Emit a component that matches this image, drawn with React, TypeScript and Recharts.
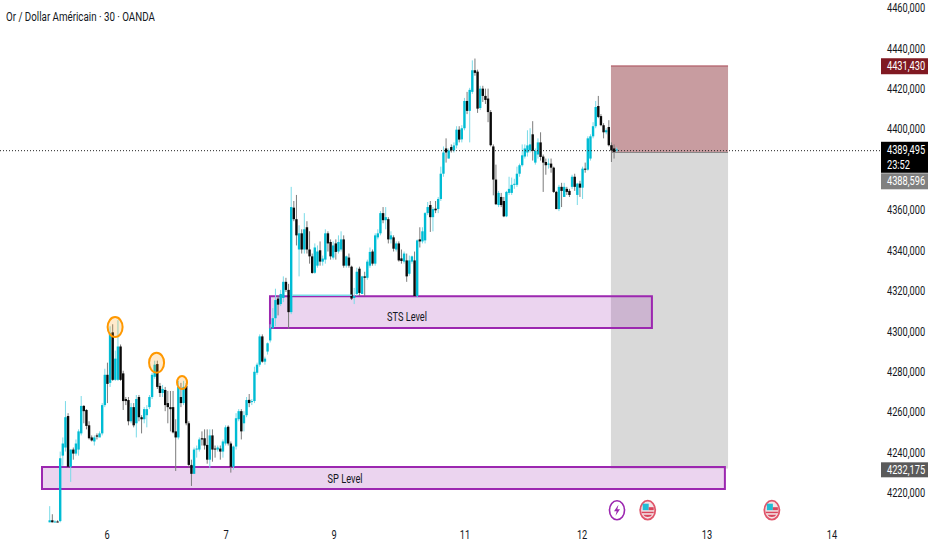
import React from "react";
import { ComposedChart, Bar, XAxis, YAxis, ReferenceArea, ReferenceLine, ReferenceDot } from "recharts";

type C = [number, number, number, number];
// open, high, low, close
const sessionA: C[] = [
  [4205,4213,4205,4206],[4206,4209,4205,4205],[4205,4206,4205,4205.4],[4205.4,4206,4205,4205.1],
  [4205.6,4240,4205,4236.7],[4238,4247,4233,4244],[4242,4265,4240,4257],[4257.6,4259,4232,4232.5],
  [4232.5,4241,4225,4241],[4241,4242,4236,4239],[4239,4246,4238,4244],[4241,4251,4238,4250],
  [4249,4267.5,4248,4262.6],[4262.6,4263,4254,4260],[4260.6,4261,4251,4252.7],[4253,4255,4246,4246.6],
  [4247,4248,4245,4245.5],[4245,4248,4243,4247],[4248,4249,4246,4247.4],[4247,4250,4248,4249],
  [4249,4264,4248,4263],[4263,4281,4262,4278],[4278,4284,4264,4273.5],[4274,4302,4272,4298.5],
  [4299,4303,4275,4275.5],[4275.5,4290,4275,4286],[4275.5,4305,4275,4292],[4292,4293,4275,4275.5],
  [4278.7,4280,4260.6,4265],[4266,4267,4263,4265],[4265.5,4267,4253,4255],[4255,4264,4254,4262],
  [4262,4264,4252,4253],[4254,4268,4247,4266],[4267,4268,4255,4257],[4257,4258,4249,4256],
  [4256,4262,4254,4261],[4258,4263,4252,4261],[4262,4268,4261,4267],[4267,4279,4266,4278],
  [4277,4285,4276,4283],[4283.3,4285,4271,4272],[4272.5,4274,4267,4269],[4269,4273,4267,4271],
  [4270.5,4272,4260,4263],[4264,4270,4254,4262],[4262,4270,4250,4261],[4262,4270,4249,4249.5],
  [4250,4256,4230.4,4247],[4247,4275,4246,4272],[4267,4274,4262,4264],[4264,4275,4263,4272],
  [4272.5,4274,4253,4254],[4254,4255,4232,4233.4],[4233.4,4236,4223,4229],[4229,4242,4229,4241],
  [4241,4243,4237,4241.5],[4241,4247,4240,4246],[4246.6,4250,4243,4246],[4246.6,4251,4241,4243],
  [4243.3,4251,4234,4236],[4236,4251,4232,4248],[4248,4251,4235,4241],[4241.5,4243,4237,4241],
  [4241,4243,4240,4242],[4241.5,4243,4236,4240],[4240,4246,4237,4245],[4244,4253,4243,4252],
  [4252.3,4253,4243,4244],[4244,4245,4229.6,4232.5],[4232.5,4243,4231,4242.5],[4242.5,4259,4241,4256.5],
  [4256,4261,4255,4260],[4260,4261,4246,4250],[4254,4260,4250,4258],[4258,4267,4257,4265.5],
  [4265.6,4268.5,4262,4264],[4264.5,4266,4263,4265],[4265,4282,4264,4279.5],[4279,4284,4278,4283],
  [4283,4298,4282,4297],[4297,4298,4284,4284.5],[4284.5,4287,4283,4286],[4289.5,4294,4288,4293.6],
];
const sessionB: C[] = [
  [4295,4303,4294,4301],[4301,4311,4301,4306],[4306,4320.6,4302,4315],[4315.7,4317,4307.4,4312.7],
  [4313,4320,4312,4318],[4316,4326.7,4314,4324],[4324,4326,4319,4320],[4320,4323,4300.8,4309],
  [4309,4371,4308,4361],[4360.7,4364,4354,4355],[4355,4367,4342,4347],[4340,4352,4326.7,4348],
  [4348,4350,4338,4340],[4340,4358,4338,4350],[4351,4354,4338,4340],[4340,4349,4333,4336.6],
  [4336.6,4338,4328,4328.4],[4328.5,4343,4328,4341],[4332,4342,4331,4339],[4339.6,4344,4332,4334],
  [4334,4337,4332,4335.5],[4335,4350,4333,4348],[4348,4349,4339,4343],[4343.7,4345,4335,4336.6],
  [4336,4344,4335,4342],[4343,4345,4335,4338.8],[4339,4347,4338,4343.7],[4340,4349,4339,4345],
  [4345,4347,4331,4332],[4332,4337,4331,4336.6],[4336,4338,4331,4332],[4331.5,4332,4315,4315.7],
  [4316,4321,4313,4317],[4318,4331,4317,4329],[4330.5,4331.5,4317,4318.5],[4318,4327,4318,4326.7],
  [4326.7,4329,4317,4326],[4326,4335,4325,4334],[4332,4341,4331,4338.8],[4339,4340,4332,4333],
  [4333,4348,4332,4347],[4346,4350,4345,4348],[4348,4359,4347,4358],[4358,4361,4353,4354.5],
  [4354.5,4361,4350,4356],[4355,4356,4343,4345],[4345,4349,4343,4347],[4346,4347,4339,4340.4],
  [4340,4344,4339,4343],[4343,4344,4334,4334.6],[4335.6,4340,4333,4334.3],[4334,4339,4333,4338],
  [4334.6,4338,4324,4326.7],[4328,4337,4327,4334.6],[4334,4337,4333,4336.6],[4334.6,4339,4316.8,4317],
  [4317,4345,4316,4344.5],[4345,4351,4341,4344],[4344,4351,4343,4349],[4344.5,4358.5,4343,4358],
];
const sessionC: C[] = [
  [4358,4363.5,4357,4361],[4362,4364,4348.7,4356],[4356,4361,4349,4360],[4360.2,4364,4358,4359.4],
  [4360,4366,4358,4365],[4365,4381,4364,4377.5],[4377.5,4391,4376,4388],[4390,4395,4383,4388],
  [4385,4390,4385,4389],[4390.7,4392,4388,4389],[4389,4393,4388,4391.5],[4391.5,4401,4390,4399.3],
  [4399.3,4401,4393,4394.4],[4394.5,4401.5,4393,4400],[4400,4415,4399,4413.5],[4413.5,4418,4407,4408.6],
  [4408.6,4420,4393,4419],[4418,4433.6,4417,4428.7],[4428.7,4434.5,4426,4427.4],[4428,4429,4407.6,4409.7],
  [4410,4421,4409,4419.6],[4419.6,4421,4413,4416],[4416,4419.6,4412,4414],[4414.7,4419.6,4403,4408],
  [4408,4409,4391,4391.6],[4391,4392,4366.8,4374.6],[4374.6,4382,4362,4362.4],[4362,4369,4361,4368],
  [4366,4368,4361,4362],[4364,4366,4356,4356.4],[4356.4,4369,4356,4368.5],[4368,4376,4367,4370],
  [4368,4375.6,4367,4372],[4372,4375,4370,4372.5],[4372,4381,4371,4377.5],[4377.5,4382.5,4376,4381.7],
  [4381.7,4392,4381,4386.6],[4386,4392,4385,4390],[4388,4399,4386,4391.5],[4389,4400,4388,4392],
  [4397,4403.5,4384,4388.8],[4383,4390,4382,4388.8],[4387,4395,4385,4393],[4393,4398,4384,4385.8],
  [4386,4387,4368.5,4383],[4383.3,4385,4377,4381.7],[4382,4385,4380,4382.5],[4382.5,4385,4378,4380.5],
  [4380.5,4381,4368,4368.5],[4368.5,4369,4360,4360],[4360,4372,4359,4371],[4371,4373,4361,4369],
  [4366,4373,4366,4371],[4370,4371,4367,4368.5],[4369,4370,4366,4367],[4371,4377,4370,4376],
  [4376,4377.5,4369,4371],[4367,4373,4362,4372.6],[4372.6,4374,4366,4370.6],[4370.6,4381,4365,4380],
  [4380,4383,4378,4379.5],[4379.5,4396,4379,4395],[4385,4397,4384,4396],[4396,4403,4395,4401],
  [4401,4413.5,4400,4410.5],[4411,4416,4405,4405.6],[4406,4407,4401,4401.5],[4401.5,4402.5,4395,4398],
  [4398,4400,4397,4399],[4400.6,4404,4391,4391.6],[4391.6,4393,4383.3,4389],[4390,4392,4385,4388.3],
  [4389,4390.5,4388,4389.5],
];
const candles = [...sessionA, ...sessionB, ...sessionC];
const readShift = 0.6;
const chartData = candles.map(([o, h, l, c], i) => ({
  i,
  o: o + readShift,
  h: h + readShift,
  l: l + readShift,
  c: c + readShift,
  range: [l + readShift, h + readShift],
}));

const priceTicks = [4460, 4440, 4420, 4400, 4360, 4340, 4320, 4300, 4280, 4260, 4240, 4220];
const dayPositions = [21.7, 67.05, 108.2, 158.1, 202.7, 250.3, 297.9];
const dayLabels = ["6", "7", "9", "11", "12", "13", "14"];
const lastPrice = 4389.495;
const countdown = "23:52";
const stopPrice = 4431.43;
const entryPrice = 4388.596;
const targetPrice = 4232.175;
const X_DOMAIN: [number, number] = [-19.05, 316.19];
const Y_DOMAIN: [number, number] = [4204.27, 4464.06];

const UP = "#00bcd4";
const UP_WICK = "#7adbe8";
const DOWN = "#0a0a0a";
const DOWN_WICK = "#7c7c7c";
const FONT = "Roboto, sans-serif";
const NARROW_X = 0.77;
const fmt = (v: number) => v.toFixed(3).replace(".", ",");

const Candle = (p: any) => {
  const { x, y, width, height, payload } = p;
  const { o, h, l, c } = payload;
  const up = c >= o;
  const k = Math.abs(height) / Math.max(h - l, 0.001);
  const top = y + (h - Math.max(o, c)) * k;
  const bh = Math.max(Math.abs(o - c) * k, 1);
  const cx = x + width / 2;
  return (
    <g>
      <rect x={cx - 0.5} y={y} width={1} height={Math.abs(height)} fill={up ? UP_WICK : DOWN_WICK} />
      <rect x={cx - 1.2} y={top} width={2.4} height={bh} fill={up ? UP : DOWN} />
    </g>
  );
};

const badges: Record<string, { bg: string; h: number; off: number }> = {
  [stopPrice]: { bg: "#801922", h: 16, off: 0.3 },
  [lastPrice]: { bg: "#000000", h: 31, off: 6.6 },
  [entryPrice]: { bg: "#808080", h: 16, off: 28.8 },
  [targetPrice]: { bg: "#5a5a5a", h: 15, off: 1.2 },
};

const Narrow = ({ x, y, fill, children, anchor = "start" }: any) => (
  <text
    transform={`translate(${x},${y}) scale(${NARROW_X},1)`}
    fontSize={12}
    fontFamily={FONT}
    fill={fill}
    textAnchor={anchor}
  >
    {children}
  </text>
);

const PriceTick = (p: any) => {
  const { y, payload } = p;
  const v = payload.value;
  const b = badges[v];
  if (!b) {
    return (
      <Narrow x={887} y={y + 4} fill="#131722">
        {fmt(v)}
      </Narrow>
    );
  }
  const cy = y + b.off;
  const isLast = v === lastPrice;
  return (
    <g>
      <rect x={881} y={cy - b.h / 2} width={47} height={b.h} fill={b.bg} />
      <Narrow x={887} y={isLast ? cy - 3 : cy + 4} fill="#fff">
        {fmt(v)}
      </Narrow>
      {isLast && (
        <Narrow x={887} y={cy + 12} fill="#fff">
          {countdown}
        </Narrow>
      )}
    </g>
  );
};

const DayTick = (p: any) => {
  const { x, payload } = p;
  const label = dayLabels[dayPositions.indexOf(payload.value)];
  return (
    <Narrow x={x} y={539} fill="#131722" anchor="middle">
      {label}
    </Narrow>
  );
};

const Ring = (rx: number, ry: number) => (p: any) => (
  <ellipse cx={p.cx} cy={p.cy} rx={rx} ry={ry} fill="#ff9800" fillOpacity={0.2} stroke="#ff9800" strokeWidth={2} />
);

const Label = (txt: string) => (p: any) => (
  <Narrow x={p.cx} y={p.cy + 4} fill="#131722" anchor="middle">
    {txt}
  </Narrow>
);

const Bolt = (p: any) => (
  <g transform={`translate(${p.cx},${p.cy})`}>
    <ellipse rx={7.5} ry={9.5} fill="#fff" stroke="#9c27b0" strokeWidth={1.6} />
    <path d="M1.5,-5.5 L-3,1 L-0.3,1 L-1.5,5.5 L3,-1 L0.3,-1 Z" fill="#9c27b0" />
  </g>
);

const Flag = (p: any) => (
  <g transform={`translate(${p.cx},${p.cy})`}>
    <ellipse rx={7.5} ry={9.5} fill="#f3e3e6" stroke="#e0566b" strokeWidth={1.8} />
    <rect x={-5} y={-6.5} width={6} height={6.5} fill="#22bcd4" />
    <rect x={1} y={-3} width={5} height={3} fill="#d9465c" />
    <rect x={-6} y={1.5} width={12} height={1.5} fill="#d9465c" />
    <path d="M-4.5,4.5 h9 a5,4 0 0 1 -9,0 Z" fill="#d9465c" />
  </g>
);

const EventX = [216, 227.7, 275];
const EventPrice = 4211.6;

export default function App() {
  return (
    <div style={{ position: "fixed", left: 0, top: 0, width: 932, height: 550, background: "#fff" }}>
      <div
        style={{
          position: "absolute",
          left: 6,
          top: 9,
          fontFamily: FONT,
          fontSize: 12.5,
          color: "#131722",
          whiteSpace: "nowrap",
          zIndex: 2,
          transform: "scaleX(0.78)",
          transformOrigin: "left center",
        }}
      >
        Or / Dollar Américain · 30 · OANDA
      </div>
      <ComposedChart
        width={932}
        height={550}
        data={chartData}
        margin={{ top: 0, right: 0, bottom: 0, left: 0 }}
      >
        <XAxis
          dataKey="i"
          type="number"
          domain={X_DOMAIN}
          allowDataOverflow
          ticks={dayPositions}
          interval={0}
          height={25}
          axisLine={false}
          tickLine={false}
          tick={<DayTick />}
        />
        <YAxis
          orientation="right"
          type="number"
          domain={Y_DOMAIN}
          allowDataOverflow
          width={52}
          ticks={[...priceTicks, stopPrice, lastPrice, entryPrice, targetPrice]}
          interval={0}
          axisLine={false}
          tickLine={false}
          tick={<PriceTick />}
        />
        <ReferenceArea x1={213.7} x2={258.3} y1={entryPrice} y2={stopPrice} fill="#801922" fillOpacity={0.43} stroke="none" ifOverflow="visible" />
        <ReferenceArea x1={213.7} x2={258.3} y1={targetPrice} y2={entryPrice} fill="#808080" fillOpacity={0.3} stroke="none" ifOverflow="visible" />
        <ReferenceLine segment={[{ x: 213.7, y: stopPrice }, { x: 258.3, y: stopPrice }]} stroke="#a84a55" strokeWidth={1} />
        <ReferenceLine segment={[{ x: 213.7, y: entryPrice }, { x: 258.3, y: entryPrice }]} stroke="#8a8a8a" strokeWidth={1} />
        <ReferenceArea x1={83.8} x2={229.3} y1={4301.7} y2={4317.5} fill="#9c27b0" fillOpacity={0.2} stroke="#9c27b0" strokeWidth={2} ifOverflow="visible" />
        <ReferenceArea x1={-3.05} x2={257.1} y1={4222.1} y2={4233} fill="#9c27b0" fillOpacity={0.2} stroke="#9c27b0" strokeWidth={2} ifOverflow="visible" />
        <ReferenceLine segment={[{ x: 92.2, y: 4318 }, { x: 115, y: 4318 }]} stroke={UP_WICK} strokeWidth={1.5} />
        <ReferenceLine y={lastPrice} stroke="#222" strokeWidth={1} strokeDasharray="1 2" />
        <Bar dataKey="range" barSize={2} shape={<Candle />} isAnimationActive={false} />
        <ReferenceDot x={24.8} y={4302.2} r={1} shape={Ring(7.5, 10)} ifOverflow="visible" />
        <ReferenceDot x={40.6} y={4284.6} r={1} shape={Ring(7.5, 10)} ifOverflow="visible" />
        <ReferenceDot x={50.3} y={4274.8} r={1} shape={Ring(5, 6.5)} ifOverflow="visible" />
        <ReferenceDot x={136} y={4307.3} r={1} shape={Label("STS Level")} ifOverflow="visible" />
        <ReferenceDot x={112.4} y={4227.1} r={1} shape={Label("SP Level")} ifOverflow="visible" />
        <ReferenceDot x={EventX[0]} y={EventPrice} r={1} shape={Bolt} ifOverflow="visible" />
        <ReferenceDot x={EventX[1]} y={EventPrice} r={1} shape={Flag} ifOverflow="visible" />
        <ReferenceDot x={EventX[2]} y={EventPrice} r={1} shape={Flag} ifOverflow="visible" />
      </ComposedChart>
    </div>
  );
}
